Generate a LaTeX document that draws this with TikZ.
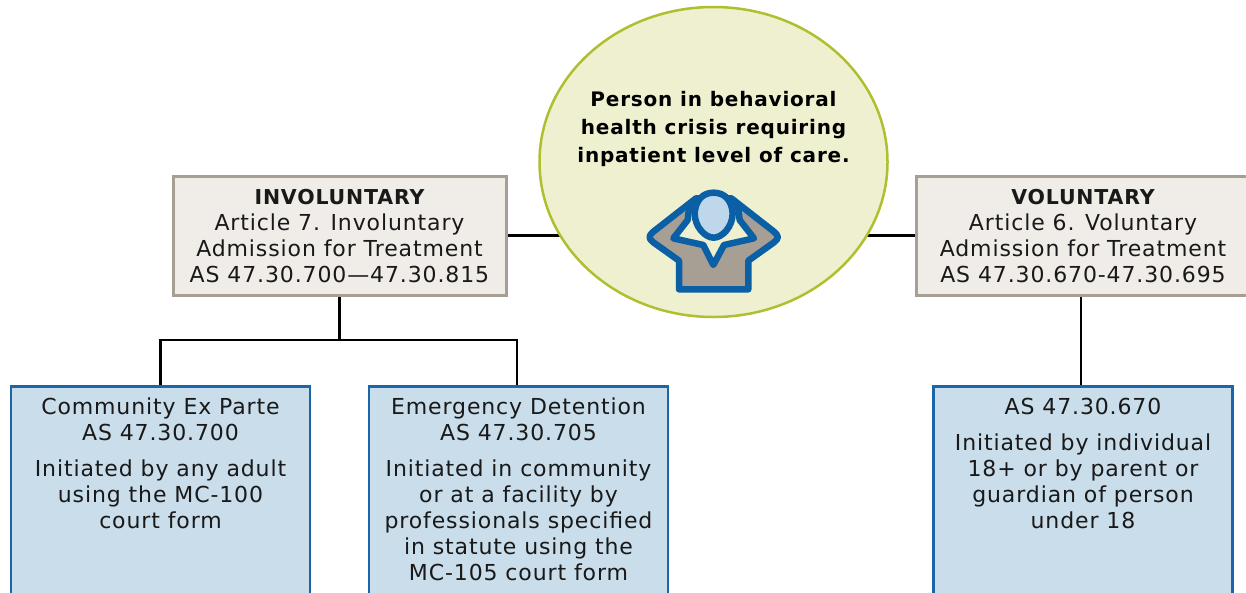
\documentclass[tikz,border=0pt]{standalone}
\usepackage{fontspec}
\setmainfont[LetterSpace=4]{DejaVu Sans}
\usetikzlibrary{shapes.geometric,backgrounds}
\definecolor{crisisfill}{HTML}{EFF0CF}
\definecolor{crisisline}{HTML}{AFBF2F}
\definecolor{greyfill}{HTML}{F0EDE9}
\definecolor{greyline}{HTML}{A89F94}
\definecolor{bluefill}{HTML}{C9DDEA}
\definecolor{blueline}{HTML}{1A66A8}
\definecolor{iconblue}{HTML}{0A5FA5}
\definecolor{headblue}{HTML}{BFD7EA}
\tikzset{
  greybox/.style={draw=greyline,fill=greyfill,line width=3pt,minimum width=333pt,minimum height=119pt,inner sep=0pt},
  bluebox/.style={draw=blueline,fill=bluefill,line width=2.5pt,minimum width=299pt,minimum height=240pt,anchor=north,inner sep=0pt},
  boxtext/.style={anchor=north,align=center,inner sep=0pt,font=\fontsize{22}{26}\selectfont,text=black!90},
  link/.style={draw=black,line width=2.4pt},
  iconline/.style={draw=iconblue,line width=6.5pt,line join=round}
}
\newcommand{\boxtitle}[1]{{\fontsize{20.5}{26}\selectfont\bfseries #1}}
\begin{document}
\begin{tikzpicture}[x=1pt,y=-1pt]
\useasboundingbox (0,0) rectangle (1246,592);
\clip (0,0) rectangle (1246,592);
\node[ellipse,draw=crisisline,fill=crisisfill,line width=2.5pt,minimum width=348pt,minimum height=310pt,inner sep=0pt] (crisis) at (713.5,162) {};
\node[anchor=north,align=center,inner sep=0pt,font=\fontsize{20}{28}\selectfont\bfseries] (crisistext) at (713.5,91) {Person in behavioral\\health crisis requiring\\inpatient level of care.};
\node[greybox] (involuntary) at (339.5,235.5) {};
\node[boxtext] (involuntarytext) at (339.5,189) {\boxtitle{INVOLUNTARY}\\Article 7. Involuntary\\Admission for Treatment\\AS 47.30.700---47.30.815};
\node[greybox] (voluntary) at (1082.5,235.5) {};
\node[boxtext] (voluntarytext) at (1083,189) {\boxtitle{VOLUNTARY}\\Article 6. Voluntary\\Admission for Treatment\\AS 47.30.670-47.30.695};
\node[bluebox] (community) at (160.5,385) {};
\node[boxtext] (communitytext) at (160.5,398) {Community Ex Parte\\AS 47.30.700\\[10pt]Initiated by any adult\\using the MC-100\\court form};
\node[bluebox] (emergency) at (518.5,385) {};
\node[boxtext] (emergencytext) at (518.5,398) {Emergency Detention\\AS 47.30.705\\[10pt]Initiated in community\\or at a facility by\\professionals specified\\in statute using the\\MC-105 court form};
\node[bluebox] (statute) at (1083,385) {};
\node[boxtext] (statutetext) at (1083,398) {AS 47.30.670\\[10pt]Initiated by individual\\18+ or by parent or\\guardian of person\\under 18};
\coordinate (split) at (339.5,340);
\begin{scope}[on background layer]
\draw[link] (involuntary.east) -- (involuntary.east -| crisis.center);
\draw[link] (voluntary.west) -- (voluntary.west -| crisis.center);
\draw[link] (involuntary.south) -- (split);
\draw[link] (community.north) |- (split) -| ([xshift=-1.5pt]emergency.north);
\draw[link] ([xshift=-2pt]statute.north |- voluntary.south) -- ([xshift=-2pt]statute.north);
\end{scope}
\begin{scope}[shift={(620,170)},x=.3333pt,y=-.3333pt]
\draw[iconline,fill=greyline] (228,85) -- (100,185) .. controls (85,198) and (85,205) .. (100,217) -- (177,272) -- (177,358) -- (385,358) -- (385,272) -- (462,217) .. controls (477,205) and (477,198) .. (462,185) -- (334,85) -- cycle;
\draw[iconline,fill=crisisfill] (208,108) -- (203,150) -- (160,205) -- (250,225) -- (280,285) -- (312,225) -- (402,205) -- (359,150) -- (354,108) -- cycle;
\draw[iconline,fill=headblue] (281,68) .. controls (245,68) and (226,95) .. (224,130) .. controls (224,170) and (255,203) .. (281,203) .. controls (307,203) and (338,170) .. (338,130) .. controls (336,95) and (317,68) .. (281,68) -- cycle;
\end{scope}
\end{tikzpicture}
\end{document}
